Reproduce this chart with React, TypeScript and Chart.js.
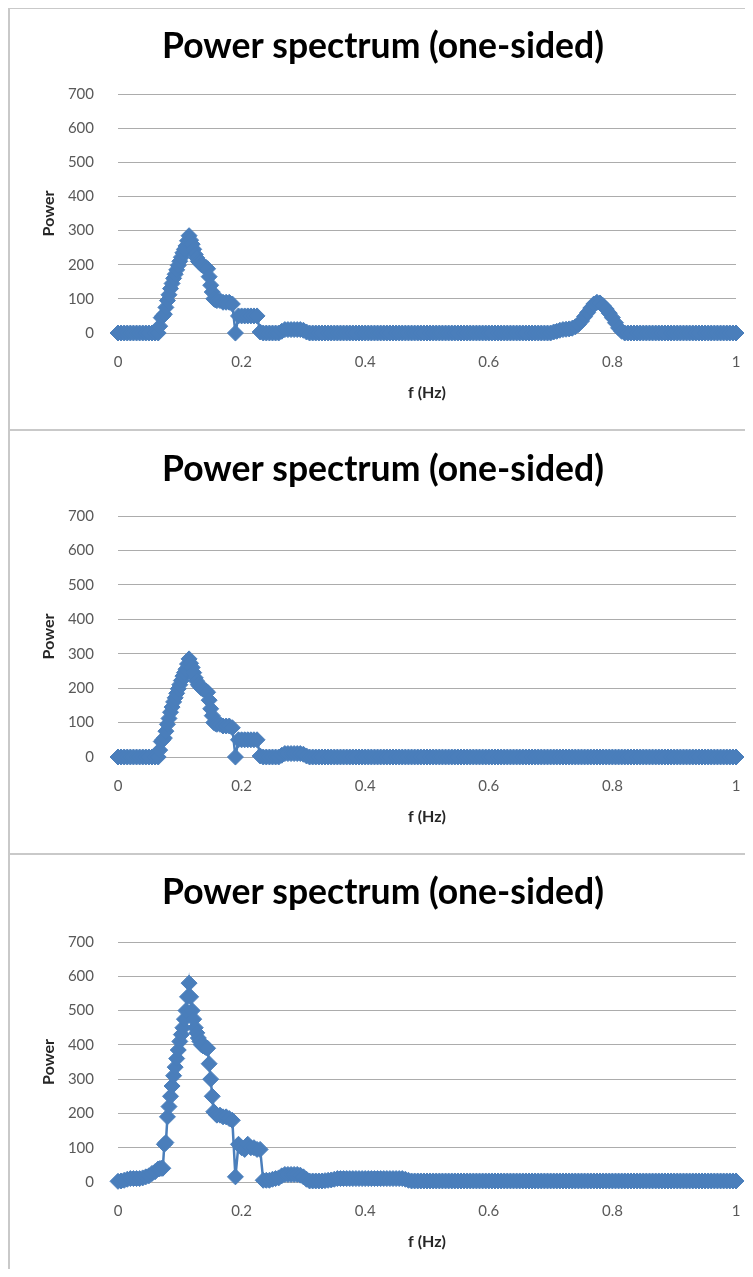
import React, { useEffect, useRef } from "react";
import { Chart, registerables } from "chart.js";

Chart.register(...registerables);

// ---- data -------------------------------------------------------------
// frequency samples (Hz): every 0.005 Hz, with 0.0025 Hz detail on the main peak
const freqs = [
  // 0 .. 0.06
  0.000, 0.005, 0.010, 0.015, 0.020, 0.025, 0.030, 0.035, 0.040, 0.045,
  0.050, 0.055, 0.060,
  // 0.065 .. 0.16 (fine)
  0.0650, 0.0675, 0.0700, 0.0725, 0.0750, 0.0775, 0.0800, 0.0825, 0.0850, 0.0875,
  0.0900, 0.0925, 0.0950, 0.0975, 0.1000, 0.1025, 0.1050, 0.1075, 0.1100, 0.1125,
  0.1150, 0.1175, 0.1200, 0.1225, 0.1250, 0.1275, 0.1300, 0.1325, 0.1350, 0.1375,
  0.1400, 0.1425, 0.1450, 0.1475, 0.1500, 0.1525, 0.1550, 0.1575, 0.1600,
  // 0.165 .. 1.0
  0.165, 0.170, 0.175, 0.180, 0.185, 0.190, 0.195,
  0.200, 0.205, 0.210, 0.215, 0.220, 0.225, 0.230, 0.235, 0.240, 0.245,
  0.250, 0.255, 0.260, 0.265, 0.270, 0.275, 0.280, 0.285, 0.290, 0.295,
  0.300, 0.305, 0.310, 0.315, 0.320, 0.325, 0.330, 0.335, 0.340, 0.345,
  0.350, 0.355, 0.360, 0.365, 0.370, 0.375, 0.380, 0.385, 0.390, 0.395,
  0.400, 0.405, 0.410, 0.415, 0.420, 0.425, 0.430, 0.435, 0.440, 0.445,
  0.450, 0.455, 0.460, 0.465, 0.470, 0.475, 0.480, 0.485, 0.490, 0.495,
  0.500, 0.505, 0.510, 0.515, 0.520, 0.525, 0.530, 0.535, 0.540, 0.545,
  0.550, 0.555, 0.560, 0.565, 0.570, 0.575, 0.580, 0.585, 0.590, 0.595,
  0.600, 0.605, 0.610, 0.615, 0.620, 0.625, 0.630, 0.635, 0.640, 0.645,
  0.650, 0.655, 0.660, 0.665, 0.670, 0.675, 0.680, 0.685, 0.690, 0.695,
  0.700, 0.705, 0.710, 0.715, 0.720, 0.725, 0.730, 0.735, 0.740, 0.745,
  0.750, 0.755, 0.760, 0.765, 0.770, 0.775, 0.780, 0.785, 0.790, 0.795,
  0.800, 0.805, 0.810, 0.815, 0.820, 0.825, 0.830, 0.835, 0.840, 0.845,
  0.850, 0.855, 0.860, 0.865, 0.870, 0.875, 0.880, 0.885, 0.890, 0.895,
  0.900, 0.905, 0.910, 0.915, 0.920, 0.925, 0.930, 0.935, 0.940, 0.945,
  0.950, 0.955, 0.960, 0.965, 0.970, 0.975, 0.980, 0.985, 0.990, 0.995,
  1.000,
];

const powerTop = [
  0, 0, 0, 0, 0, 0, 0, 0, 0, 0,
  0, 0, 0,
  0, 20, 45, 50, 55, 75, 95, 112, 130, 145,
  160, 172, 185, 198, 210, 222, 235, 245, 255, 270,
  285, 272, 260, 245, 230, 220, 210, 205, 200, 197,
  195, 192, 188, 165, 140, 120, 100, 97, 95,
  95, 90, 90, 90, 85, 0, 50,
  50, 50, 50, 50, 50, 50, 3, 0, 0, 0,
  0, 0, 0, 5, 10, 10, 10, 10, 10, 10,
  8, 3, 0, 0, 0, 0, 0, 0, 0, 0,
  0, 0, 0, 0, 0, 0, 0, 0, 0, 0,
  0, 0, 0, 0, 0, 0, 0, 0, 0, 0,
  0, 0, 0, 0, 0, 0, 0, 0, 0, 0,
  0, 0, 0, 0, 0, 0, 0, 0, 0, 0,
  0, 0, 0, 0, 0, 0, 0, 0, 0, 0,
  0, 0, 0, 0, 0, 0, 0, 0, 0, 0,
  0, 0, 0, 0, 0, 0, 0, 0, 0, 0,
  0, 3, 5, 8, 10, 11, 12, 14, 18, 25,
  35, 48, 60, 73, 85, 90, 88, 80, 70, 58,
  45, 30, 15, 5, 0, 0, 0, 0, 0, 0,
  0, 0, 0, 0, 0, 0, 0, 0, 0, 0,
  0, 0, 0, 0, 0, 0, 0, 0, 0, 0,
  0, 0, 0, 0, 0, 0, 0, 0, 0, 0,
  0,
];

const powerMiddle = [
  0, 0, 0, 0, 0, 0, 0, 0, 0, 0,
  0, 0, 0,
  0, 20, 45, 50, 55, 75, 95, 112, 130, 145,
  160, 172, 185, 198, 210, 222, 235, 245, 255, 270,
  285, 272, 260, 245, 230, 220, 210, 205, 200, 197,
  195, 192, 188, 165, 140, 120, 100, 97, 95,
  95, 90, 90, 90, 85, 0, 50,
  50, 50, 50, 50, 50, 50, 3, 0, 0, 0,
  0, 0, 0, 5, 10, 10, 10, 10, 10, 10,
  8, 3, 0, 0, 0, 0, 0, 0, 0, 0,
  0, 0, 0, 0, 0, 0, 0, 0, 0, 0,
  0, 0, 0, 0, 0, 0, 0, 0, 0, 0,
  0, 0, 0, 0, 0, 0, 0, 0, 0, 0,
  0, 0, 0, 0, 0, 0, 0, 0, 0, 0,
  0, 0, 0, 0, 0, 0, 0, 0, 0, 0,
  0, 0, 0, 0, 0, 0, 0, 0, 0, 0,
  0, 0, 0, 0, 0, 0, 0, 0, 0, 0,
  0, 0, 0, 0, 0, 0, 0, 0, 0, 0,
  0, 0, 0, 0, 0, 0, 0, 0, 0, 0,
  0, 0, 0, 0, 0, 0, 0, 0, 0, 0,
  0, 0, 0, 0, 0, 0, 0, 0, 0, 0,
  0, 0, 0, 0, 0, 0, 0, 0, 0, 0,
  0, 0, 0, 0, 0, 0, 0, 0, 0, 0,
  0,
];

const powerBottom = [
  2, 3, 5, 8, 10, 10, 10, 10, 12, 15,
  18, 25, 30,
  38, 39, 40, 40, 110, 115, 190, 220, 250, 280,
  310, 335, 360, 385, 410, 430, 450, 475, 500, 540,
  580, 540, 500, 475, 450, 435, 420, 410, 400, 397,
  395, 392, 390, 345, 300, 250, 205, 200, 195,
  195, 190, 190, 185, 180, 15, 110,
  100, 95, 110, 100, 100, 95, 95, 5, 5, 5,
  8, 10, 12, 18, 22, 22, 22, 22, 22, 20,
  15, 8, 3, 3, 3, 3, 3, 4, 5, 6,
  8, 10, 10, 10, 10, 10, 10, 10, 10, 10,
  10, 10, 10, 10, 10, 10, 10, 10, 10, 10,
  10, 10, 10, 8, 5, 3, 3, 3, 3, 3,
  3, 3, 3, 3, 3, 3, 3, 3, 3, 3,
  3, 3, 3, 3, 3, 3, 3, 3, 3, 3,
  3, 3, 3, 3, 3, 3, 3, 3, 3, 3,
  3, 3, 3, 3, 3, 3, 3, 3, 3, 3,
  3, 3, 3, 3, 3, 3, 3, 3, 3, 3,
  3, 3, 3, 3, 3, 3, 3, 3, 3, 3,
  3, 3, 3, 3, 3, 3, 3, 3, 3, 3,
  3, 3, 3, 3, 3, 3, 3, 3, 3, 3,
  3, 3, 3, 3, 3, 3, 3, 3, 3, 3,
  3, 3, 3, 3, 3, 3, 3, 3, 3, 3,
  3,
];

const xTickLabels = ["0", "0.2", "0.4", "0.6", "0.8", "1"];
const yTickLabels = ["0", "100", "200", "300", "400", "500", "600", "700"];
const chartTitle = "Power spectrum (one-sided)";
const xAxisTitle = "f (Hz)";
const yAxisTitle = "Power";

// ---- styling / layout -------------------------------------------------
const SERIES_COLOR = "#4A7EBB";
const FONT = "Lato, 'Open Sans', sans-serif";
const CANVAS_W = 743;
const TITLE_SIZE = 35.5;
const TITLE_LH = TITLE_SIZE * 1.2;
const AXIS_TITLE_SIZE = 16;
const TICK_SIZE = 15;
const PAD_LEFT = 20;
const PAD_RIGHT = 17;
const Y_AXIS_W = 88;
const X_AXIS_H = 70;

type PanelLayout = {
  panelH: number;
  canvasH: number;
  plotTop: number;
  plotBottom: number;
  titleY: number;
};

const layouts: PanelLayout[] = [
  { panelH: 420, canvasH: 420, plotTop: 85, plotBottom: 324, titleY: 38 },
  { panelH: 422, canvasH: 422, plotTop: 85, plotBottom: 326, titleY: 39 },
  { panelH: 422, canvasH: 422, plotTop: 87, plotBottom: 327, titleY: 38 },
];

function SpectrumPanel({ values, layout }: { values: number[]; layout: PanelLayout }) {
  const ref = useRef<HTMLCanvasElement | null>(null);

  useEffect(() => {
    if (!ref.current) return;
    const titleTop = layout.titleY - TITLE_LH / 2;
    const titleBottom = layout.plotTop - titleTop - TITLE_LH;
    const chart = new Chart(ref.current, {
      type: "scatter",
      data: {
        datasets: [
          {
            data: freqs.map((f, i) => ({ x: f, y: values[i] })),
            showLine: true,
            borderColor: SERIES_COLOR,
            backgroundColor: SERIES_COLOR,
            borderWidth: 2.5,
            pointStyle: "rectRot",
            pointRadius: 8,
            pointBorderWidth: 1,
            pointBackgroundColor: SERIES_COLOR,
            pointBorderColor: SERIES_COLOR,
            clip: false as any,
          },
        ],
      },
      options: {
        animation: false,
        responsive: false,
        maintainAspectRatio: false,
        layout: {
          autoPadding: false,
          padding: {
            top: 0,
            left: PAD_LEFT,
            right: PAD_RIGHT,
            bottom: layout.canvasH - layout.plotBottom - X_AXIS_H,
          },
        },
        plugins: {
          legend: { display: false },
          tooltip: { enabled: false },
          title: {
            display: true,
            text: chartTitle,
            color: "#000000",
            font: { family: FONT, size: TITLE_SIZE, weight: "bold" },
            padding: { top: titleTop, bottom: titleBottom },
          },
        },
        scales: {
          x: {
            type: "linear",
            min: 0,
            max: 1,
            ticks: {
              stepSize: 0.2,
              padding: 0,
              color: "#595959",
              font: { family: FONT, size: TICK_SIZE },
              maxRotation: 0,
              callback: (_v: any, i: number) => xTickLabels[i],
            },
            grid: { display: false, drawTicks: true, tickLength: 20 },
            border: { display: false },
            title: {
              display: true,
              text: xAxisTitle,
              color: "#262626",
              font: { family: FONT, size: AXIS_TITLE_SIZE, weight: "bold" },
              padding: { top: 0, bottom: 0.4 },
            },
            afterFit: (s: any) => {
              s.height = X_AXIS_H;
            },
          },
          y: {
            type: "linear",
            min: 0,
            max: 700,
            ticks: {
              stepSize: 100,
              padding: 24,
              color: "#595959",
              font: { family: FONT, size: TICK_SIZE },
              callback: (_v: any, i: number) => yTickLabels[i],
            },
            grid: { color: "#acacac", lineWidth: 1, drawTicks: false },
            border: { display: false },
            title: {
              display: true,
              text: yAxisTitle,
              color: "#262626",
              font: { family: FONT, size: AXIS_TITLE_SIZE, weight: "bold" },
              padding: { top: 9.4, bottom: 0 },
            },
            afterFit: (s: any) => {
              s.width = Y_AXIS_W;
            },
          },
        },
      },
    });
    return () => chart.destroy();
  }, [values, layout]);

  return (
    <div
      style={{
        borderTop: "2px solid #c9c9c9",
        borderLeft: "2px solid #c9c9c9",
        width: CANVAS_W,
        height: layout.panelH,
        background: "#ffffff",
      }}
    >
      <canvas
        ref={ref}
        width={CANVAS_W}
        height={layout.canvasH}
        style={{ display: "block", width: CANVAS_W, height: layout.canvasH }}
      />
    </div>
  );
}

export default function App() {
  return (
    <div
      style={{
        width: CANVAS_W + 2,
        height: 1262,
        marginTop: -1,
        overflow: "hidden",
        background: "#ffffff",
      }}
    >
      <SpectrumPanel values={powerTop} layout={layouts[0]} />
      <SpectrumPanel values={powerMiddle} layout={layouts[1]} />
      <SpectrumPanel values={powerBottom} layout={layouts[2]} />
    </div>
  );
}
